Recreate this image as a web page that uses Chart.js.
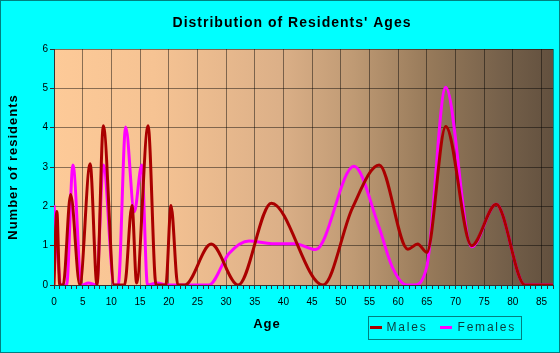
<!DOCTYPE html>
<html>
<head>
<meta charset="utf-8">
<script src="https://cdn.jsdelivr.net/npm/chart.js@4/dist/chart.umd.min.js"></script>
<style>
  html, body { margin: 0; padding: 0; background: #00ffff; }
  canvas { display: block; }
</style>
</head>
<body>
<canvas id="ages" width="560" height="353"></canvas>
<script>
// ── Data ────────────────────────────────────────────────────────────────────
const TITLE   = "Distribution of Residents' Ages";
const X_TITLE = 'Age';
const Y_TITLE = 'Number of residents';
const X_MAX   = 87;
const Y_MAX   = 6;

const maleAges   = [0, 0.5, 1, 1.6, 2.9, 4.5, 6.3, 7.5, 8.6, 10.5, 12.3, 13.6, 14.4, 16.4, 17.8, 19.5, 20.4, 21.6, 22.8,
                    27.4, 32.1, 37.9, 46.9, 52, 56.7, 61.7, 63.4, 65, 68.3, 72.8, 77.1, 82.1, 87];
const maleCounts = [0, 1.87, 0, 0, 2.3, 0, 3.08, 0, 4.05, 0, 0, 2.02, 0.05, 4.05, 0, 0, 2.02, 0, 0,
                    1.04, 0, 2.08, 0, 1.95, 3.05, 0.91, 1.04, 0.83, 4.03, 1.0, 2.05, 0, 0];

const femaleAges   = [0, 1.3, 2.2, 3.3, 4.8, 6, 7.4, 8.6, 10.5, 11.2, 12.5, 14, 15.3, 16.3, 18, 19.6, 27,
                      30.5, 34, 38, 42, 45.6, 52.3, 56.6, 59, 61.5, 62.7, 65, 68.3, 72.8, 77.1, 82.1, 87];
const femaleCounts = [2.03, 0, 0, 3.05, 0, 0.05, 0, 3.05, 0, 0, 4.02, 1.86, 3.05, 0, 0.05, 0, 0,
                      0.8, 1.12, 1.05, 1.05, 0.9, 3.02, 1.5, 0.45, 0, 0, 0.47, 5.03, 0.97, 2.05, 0, 0];

const GRID = 'rgba(0,0,0,0.45)';

// Plugin: cyan page, gradient plot area, spaced-out texts, legend box, frame
const decorPlugin = {
    id: 'decor',
    beforeDraw(chart) {
        const { ctx, chartArea: a } = chart;
        ctx.save();
        ctx.fillStyle = '#00ffff';
        ctx.fillRect(0, 0, chart.width, chart.height);
        const g = ctx.createLinearGradient(a.left, 0, a.right, 0);
        g.addColorStop(0,    '#fdca98');
        g.addColorStop(0.2,  '#f6c393');
        g.addColorStop(0.45, '#dcb088');
        g.addColorStop(0.6,  '#bf9a74');
        g.addColorStop(0.75, '#977a5a');
        g.addColorStop(0.9,  '#75604a');
        g.addColorStop(1,    '#62503e');
        ctx.fillStyle = g;
        ctx.fillRect(a.left, a.top, a.right - a.left, a.bottom - a.top);
        ctx.restore();
    },
    afterDraw(chart) {
        const { ctx } = chart;
        ctx.save();
        ctx.textAlign    = 'center';
        ctx.textBaseline = 'middle';
        ctx.fillStyle    = '#000';

        ctx.font = 'bold 14px Arial, "Liberation Sans"';
        ctx.letterSpacing = '1px';
        ctx.fillText(TITLE, 292, 23);

        ctx.font = 'bold 13px Arial, "Liberation Sans"';
        ctx.fillText(X_TITLE, 267, 324);

        ctx.save();
        ctx.translate(13, 167);
        ctx.rotate(-Math.PI / 2);
        ctx.fillText(Y_TITLE, 0, 0);
        ctx.restore();

        // legend
        ctx.strokeStyle = '#008080';
        ctx.lineWidth   = 1;
        ctx.strokeRect(368.5, 316.5, 153, 23);
        const items = [
            { x: 370, tx: 386.5 },
            { x: 440, tx: 457.5 }
        ];
        ctx.textAlign = 'left';
        ctx.font = '12px Arial, "Liberation Sans"';
        ctx.letterSpacing = '1.8px';
        chart.data.datasets.forEach((ds, i) => {
            const it = items[i];
            ctx.strokeStyle = ds.borderColor;
            ctx.lineWidth   = 3;
            ctx.beginPath();
            ctx.moveTo(it.x, 327.5);
            ctx.lineTo(it.x + 12, 327.5);
            ctx.stroke();
            ctx.fillStyle = '#0a3c3c';
            ctx.fillText(ds.label, it.tx, 328);
        });

        // outer frame
        ctx.strokeStyle = '#008080';
        ctx.lineWidth   = 1;
        ctx.strokeRect(0.5, 0.5, chart.width - 1, chart.height - 1);
        ctx.restore();
    }
};

const toPoints = (xs, ys) => xs.map((x, i) => ({ x, y: ys[i] }));

new Chart(document.getElementById('ages').getContext('2d'), {
    type: 'line',
    plugins: [decorPlugin],
    data: {
        datasets: [
            { label: 'Males',   data: toPoints(maleAges, maleCounts),     borderColor: '#aa0000', borderWidth: 3,
              pointRadius: 0, cubicInterpolationMode: 'monotone', fill: false },
            { label: 'Females', data: toPoints(femaleAges, femaleCounts), borderColor: '#ff00ff', borderWidth: 3,
              pointRadius: 0, cubicInterpolationMode: 'monotone', fill: false }
        ]
    },
    options: {
        responsive: false,
        animation:  false,
        devicePixelRatio: 1,
        layout: { padding: { top: 49, right: 5, left: 0, bottom: 0 } },
        plugins: {
            legend:  { display: false },
            title:   { display: false },
            tooltip: { enabled: false }
        },
        scales: {
            x: {
                type: 'linear',
                min: 0,
                max: X_MAX,
                afterFit(s) { s.height = 68; },
                ticks: {
                    stepSize: 1,
                    autoSkip: false,
                    maxRotation: 0,
                    padding: 7,
                    color: '#000',
                    font: { family: 'Arial, "Liberation Sans"', size: 10 },
                    callback: v => (v % 5 === 0 ? v : '')
                },
                grid: {
                    color: c => (c.tick && (c.tick.value % 5 === 0 || c.tick.value === X_MAX)) ? GRID : 'rgba(0,0,0,0)',
                    tickColor: '#333',
                    tickLength: 4
                },
                border: { color: '#333', width: 1 }
            },
            y: {
                min: 0,
                max: Y_MAX,
                afterFit(s) { s.width = 54; },
                ticks: {
                    stepSize: 1,
                    padding: 2,
                    color: '#000',
                    font: { family: 'Arial, "Liberation Sans"', size: 10 }
                },
                grid: { color: GRID, tickColor: '#333', tickLength: 4 },
                border: { color: '#333', width: 1 }
            }
        }
    }
});
</script>
</body>
</html>
